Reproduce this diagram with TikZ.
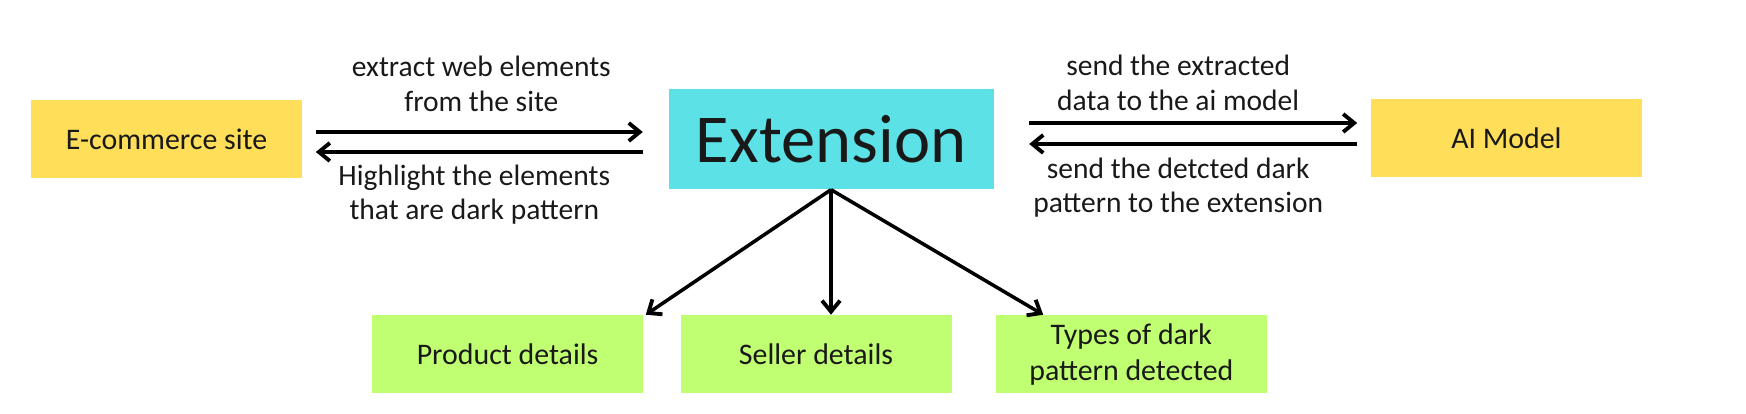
\documentclass[tikz,border=0pt]{standalone}
\usepackage{fontspec}
\setmainfont{Carlito}
\usepackage{tikz}
\usetikzlibrary{arrows.meta,positioning,calc}

\definecolor{siteyellow}{HTML}{FFDE59}
\definecolor{extcyan}{HTML}{5CE1E6}
\definecolor{detailgreen}{HTML}{C1FF72}

\begin{document}
\begin{tikzpicture}[
    box/.style={inner sep=2pt, align=center, font=\fontsize{8.5}{10.4}\selectfont, text=black!90},
    sitebox/.style={box, fill=siteyellow, minimum width=2.71cm, minimum height=0.78cm},
    extbox/.style={box, fill=extcyan, minimum width=3.25cm, minimum height=1.0cm, font=\fontsize{19.5}{22}\selectfont},
    detail/.style={box, fill=detailgreen, minimum width=2.71cm, minimum height=0.78cm},
    lbl/.style={align=center, font=\fontsize{8.4}{9.8}\selectfont, text=black!90, inner sep=1pt},
    arr/.style={-{Straight Barb[length=1.1mm, width=1.8mm, line width=1.1pt]}, line width=1.15pt}
  ]
    \useasboundingbox (0,0) rectangle (17.46,-4.14);
    % top row
    \node[extbox] (ext) at (8.31,-1.39) {Extension};
    \node[sitebox, left=3.65cm of ext] (site) {E-commerce site};
    \node[sitebox, right=3.76cm of ext, yshift=0.01cm] (ai) {AI Model};
    % bottom row
    \node[detail, below=1.25cm of ext, xshift=-0.15cm] (seller) {Seller details};
    \node[detail, left=0.36cm of seller] (prod) {Product details};
    \node[detail, right=0.43cm of seller] (types) {Types of dark\\pattern detected};
    % site <-> extension
    \draw[arr, shorten <=0.13cm, shorten >=0.25cm] ([yshift=0.07cm]site.east) -- ([yshift=0.07cm]site.east -| ext.west)
      node[lbl, midway, above=0.15cm, xshift=-0.04cm] {extract web elements\\from the site};
    \draw[arr, shorten <=0.25cm, shorten >=0.13cm] ([yshift=-0.13cm]site.east -| ext.west) -- ([yshift=-0.13cm]site.east)
      node[lbl, midway, below=0.07cm, xshift=-0.11cm] {Highlight the elements\\that are dark pattern};
    % extension <-> ai model
    \draw[arr, shorten <=0.35cm, shorten >=0.13cm] ([yshift=0.16cm]ext.east) -- ([yshift=0.16cm]ext.east -| ai.west)
      node[lbl, midway, above=0.07cm, xshift=-0.04cm] {send the extracted\\data to the ai model};
    \draw[arr, shorten <=0.13cm, shorten >=0.35cm] ([yshift=-0.05cm]ext.east -| ai.west) -- ([yshift=-0.05cm]ext.east)
      node[lbl, midway, below=0.08cm, xshift=-0.04cm] {send the detcted dark\\pattern to the extension};
    % extension -> details
    \draw[arr, line width=1pt] (ext.south) -- ([xshift=0.02cm]prod.north east);
    \draw[arr, line width=1pt] (ext.south) -- (ext.south |- seller.north);
    \draw[arr, line width=1pt] (ext.south) -- ([xshift=0.48cm]types.north west);
  \end{tikzpicture}
\end{document}
